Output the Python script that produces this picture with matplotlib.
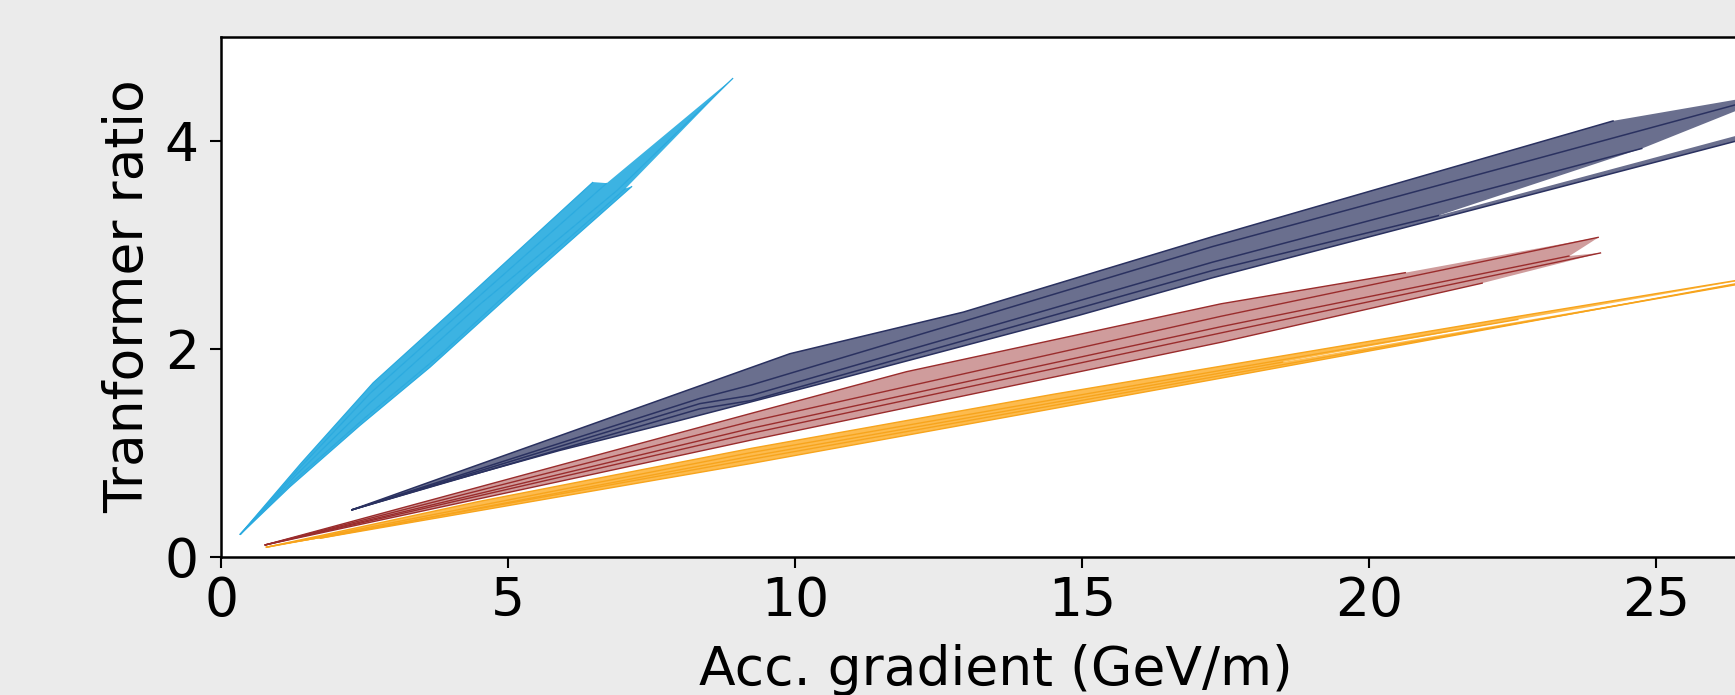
import matplotlib
matplotlib.use("Agg")
import matplotlib.pyplot as plt

# ---------------- data (each group = several lines, listed top to bottom) ----------------
cyan_x = [
    [0.33, 1.40, 2.65, 3.99, 6.48],
    [0.33, 1.35, 2.60, 4.00, 6.72],
    [0.33, 1.30, 2.60, 4.50, 6.90, 8.92],
    [0.33, 1.25, 2.50, 3.80, 5.40, 7.05],
    [0.33, 1.20, 2.42, 3.64, 5.40, 7.16],
]
cyan_y = [
    [0.21, 0.90, 1.67, 2.34, 3.60],
    [0.21, 0.84, 1.57, 2.26, 3.59],
    [0.21, 0.78, 1.48, 2.42, 3.52, 4.60],
    [0.21, 0.72, 1.33, 1.93, 2.74, 3.54],
    [0.21, 0.67, 1.26, 1.82, 2.70, 3.56],
]

navy_x = [
    [2.27, 9.91, 12.93, 17.27, 24.26],
    [2.27, 8.34, 9.24, 12.93, 17.27, 26.36, 27.25],
    [2.27, 8.34, 9.24, 17.27, 24.76],
    [2.27, 8.34, 9.24, 17.27, 21.22],
    [2.27, 3.95, 5.90, 7.93, 10.37, 14.95, 17.27, 26.36, 28.50],
]
navy_y = [
    [0.447, 1.95, 2.35, 3.075, 4.19],
    [0.447, 1.52, 1.65, 2.26, 2.98, 4.34, 4.475],
    [0.447, 1.47, 1.55, 2.83, 3.925],
    [0.447, 1.42, 1.50, 2.75, 3.28],
    [0.447, 0.72, 1.02, 1.30, 1.65, 2.32, 2.68, 3.99, 4.357],
]

red_x = [
    [0.76, 9.24, 11.94, 17.42, 20.64],
    [0.76, 9.24, 17.42, 24.00],
    [0.76, 9.24, 17.42, 23.49],
    [0.76, 9.24, 17.42, 24.04],
    [0.76, 9.24, 17.42, 21.98],
]
red_y = [
    [0.11, 1.377, 1.777, 2.43, 2.73],
    [0.11, 1.30, 2.31, 3.07],
    [0.11, 1.233, 2.21, 2.89],
    [0.11, 1.185, 2.15, 2.92],
    [0.11, 1.12, 2.06, 2.63],
]

orange_x = [
    [0.78, 4.50, 9.24, 14.50, 18.50, 22.60, 28.00],
    [0.78, 9.24, 17.42, 22.60],
    [1.72, 9.24, 17.42, 18.50],
    [0.78, 9.24, 17.42, 28.00],
    [1.72, 9.24, 17.42, 26.36, 28.00],
]
orange_y = [
    [0.088, 0.53, 1.04, 1.56, 1.93, 2.31, 2.80],
    [0.088, 1.00, 1.79, 2.28],
    [0.175, 0.965, 1.765, 1.87],
    [0.088, 0.935, 1.74, 2.77],
    [0.175, 0.895, 1.715, 2.62, 2.78],
]

x_ticks = [0, 5, 10, 15, 20, 25]
y_ticks = [0, 2, 4]
x_label = "Acc. gradient (GeV/m)"
y_label = "Tranformer ratio"

# ---------------- figure ----------------
W, H, DPI = 1735, 695, 100
fig = plt.figure(figsize=(W / DPI, H / DPI), dpi=DPI, facecolor="#ebebeb")

left_px, bottom_px, top_px = 221.0, 556.5, 36.5
xmax = 30.0
px_per_unit = 57.41
ax_w_px = xmax * px_per_unit
ax_h_px = bottom_px - top_px
ax = fig.add_axes([left_px / W, (H - bottom_px) / H, ax_w_px / W, ax_h_px / H])
ax.set_facecolor("white")
ax.set_xlim(0, xmax)
ax.set_ylim(0, 5)


def draw_group(xs, ys, fill_c, line_c, lw):
    for i in range(len(xs) - 1):
        px = list(xs[i]) + list(xs[i + 1])[::-1]
        py = list(ys[i]) + list(ys[i + 1])[::-1]
        ax.fill(px, py, color=fill_c, lw=0, zorder=1)
    for x, y in zip(xs, ys):
        ax.plot(x, y, color=line_c, lw=lw, zorder=2, solid_capstyle="butt")


draw_group(cyan_x, cyan_y, "#3cb3e2", "#2aaadf", 0.9)
draw_group(navy_x, navy_y, "#6a6f8e", "#2a3160", 1.1)
draw_group(red_x, red_y, "#cf9c9c", "#9a2c2c", 1.0)
draw_group(orange_x, orange_y, "#fdbb4e", "#f7a41c", 1.0)

fs = 38.5
ax.set_xticks(x_ticks)
ax.set_yticks(y_ticks)
ax.tick_params(axis="both", labelsize=fs, length=8, width=1.5, pad=5, colors="black")
ax.tick_params(axis="y", pad=8)
for s in ax.spines.values():
    s.set_linewidth(1.8)

ax.set_xlabel(x_label, fontsize=fs)
ax.set_ylabel(y_label, fontsize=fs)
ax.xaxis.label.set_va("bottom")
ax.xaxis.set_label_coords((900 * 1735 / 1568 - left_px) / ax_w_px,
                          -(696 - bottom_px) / ax_h_px)
ax.yaxis.set_label_coords(-(left_px - 154) / ax_w_px, 0.5)

fig.savefig("out.png", dpi=DPI, facecolor=fig.get_facecolor())
